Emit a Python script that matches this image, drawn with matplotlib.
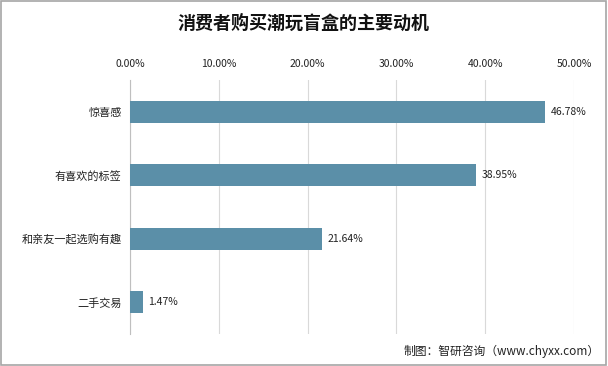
import matplotlib
matplotlib.use("Agg")
import matplotlib.pyplot as plt
from matplotlib.patches import Rectangle

plt.rcParams['font.family'] = ['Noto Sans CJK SC', 'DejaVu Sans']

categories = ["惊喜感", "有喜欢的标签", "和亲友一起选购有趣", "二手交易"]
values = [46.78, 38.95, 21.64, 1.47]
ticks = [0, 10, 20, 30, 40, 50]
tick_labels = ["0.00%", "10.00%", "20.00%", "30.00%", "40.00%", "50.00%"]

fig = plt.figure(figsize=(6.08, 3.66), dpi=100)
ax = fig.add_axes([130/608, 1-334/366, (574-130)/608, (334-80)/366])

y = list(range(len(categories)))
ax.barh(y, values, height=0.34, color="#5B8FA8", zorder=3)
for yi, v in zip(y, values):
    ax.text(v + 0.6, yi, f"{v:.2f}%", va="center", ha="left", fontsize=7.5, color="#222222")

ax.set_ylim(len(categories) - 0.5, -0.5)
ax.set_xlim(0, 50)
ax.set_yticks(y)
ax.set_yticklabels(categories, fontsize=8, color="#222222")
ax.set_xticks(ticks)
ax.set_xticklabels(tick_labels, fontsize=7.5, color="#222222")
ax.xaxis.tick_top()
ax.tick_params(axis='both', length=0, pad=6)
ax.tick_params(axis='x', pad=8)
ax.grid(axis='x', color="#D9D9D9", linewidth=0.8, zorder=0)
for s in ["top", "right", "bottom"]:
    ax.spines[s].set_visible(False)
ax.spines["left"].set_color("#BFBFBF")
ax.spines["left"].set_linewidth(0.8)

fig.text(0.5, 1-23/366, "消费者购买潮玩盲盒的主要动机", ha="center", va="center",
         fontsize=13, fontweight="bold", color="#111111")
fig.text(600/608, 1-351/366, "制图：智研咨询（www.chyxx.com）", ha="right", va="center",
         fontsize=8.5, color="#222222")

fig.add_artist(Rectangle((0.002, 0.003), 0.995, 0.994, transform=fig.transFigure,
                         fill=False, edgecolor="#A6A6A6", linewidth=1.2))

fig.savefig("out.png", dpi=100)
